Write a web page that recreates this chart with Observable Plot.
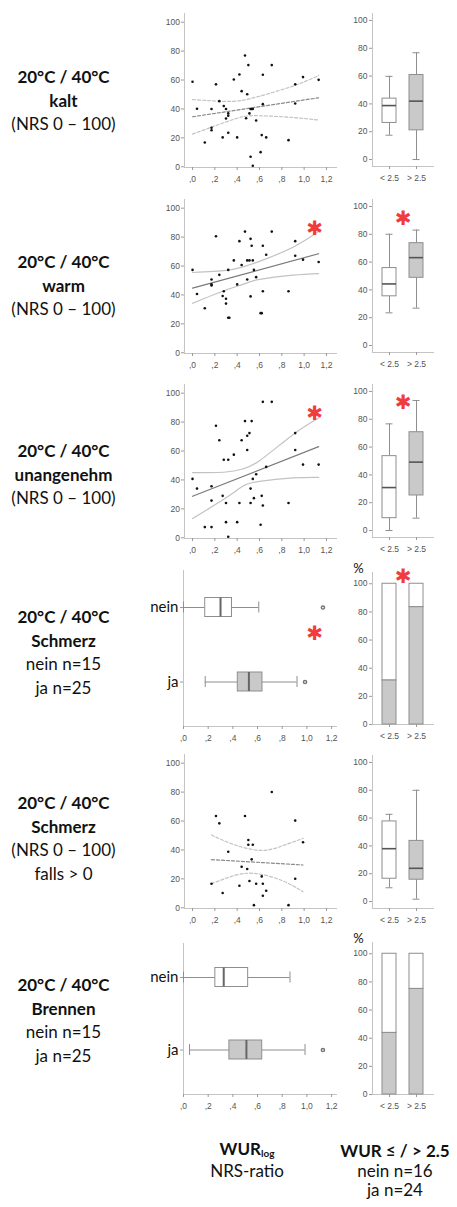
<!DOCTYPE html>
<html><head><meta charset="utf-8">
<script src="https://cdn.jsdelivr.net/npm/d3@7"></script>
<script src="https://cdn.jsdelivr.net/npm/@observablehq/plot@0.6"></script>
<style>
body{margin:0;background:#fff;}
#root{position:relative;width:457px;height:1207px;overflow:hidden;font-family:Lato,"Open Sans",sans-serif;color:#111;}
.lab{position:absolute;left:0;width:127px;text-align:center;font-size:17px;line-height:23.5px;}
.lab .b{font-weight:700}
.foot{position:absolute;text-align:center;font-size:17px;line-height:19.5px;}
.foot .b{font-weight:700}
.foot .l2{margin-top:2px}
sub{font-size:10px;vertical-align:-2px;line-height:0}
</style></head><body><div id="root"></div>
<script>
// ---------- data ----------
const xTicks = [0, 0.2, 0.4, 0.6, 0.8, 1.0, 1.2];
const yTicks = [0, 20, 40, 60, 80, 100];
const groups = ["< 2.5", "> 2.5"];
const answers = ["nein", "ja"];
const starGlyph = ["✱"];
const pctGlyph = ["%"];

// Scatter: [WUR_log, NRS]
const kalt = [[0,58.8],[0.04,40.1],[0.11,16.8],[0.17,40],[0.17,27],[0.17,25.3],[0.21,57],[0.24,45.4],[0.27,20.3],[0.28,42],[0.30,40],[0.30,33.4],[0.32,36.9],[0.32,35.3],[0.32,23.5],[0.37,60.4],[0.40,20.3],[0.42,63.8],[0.44,52.3],[0.47,77],[0.49,50.2],[0.48,33.6],[0.50,70.3],[0.51,36.9],[0.52,40],[0.53,40],[0.54,40],[0.52,6.9],[0.54,0.7],[0.57,32],[0.61,10.1],[0.62,21.9],[0.63,63.6],[0.63,43.3],[0.66,20.3],[0.71,70.3],[0.86,18.4],[0.92,57],[0.92,43.8],[0.99,62],[1.13,60.1]];
const kaltFit = [[0,34.6],[1.13,47.7]];
const kaltHi = [[0,46.5],[0.3,45.2],[0.45,46],[0.6,48.8],[0.9,55.8],[1.13,63.1]];
const kaltLo = [[0,22.6],[0.3,31],[0.45,34.6],[0.6,35.3],[0.9,34.1],[1.13,32.3]];

const warm = [[0,57.3],[0.04,40.6],[0.11,30.8],[0.17,50.7],[0.17,47.3],[0.17,46.5],[0.21,80.6],[0.24,53.9],[0.27,39.3],[0.28,42.5],[0.30,37.4],[0.30,34],[0.32,57.3],[0.32,24.2],[0.33,24.2],[0.37,63.9],[0.40,47.3],[0.42,77.2],[0.44,60.7],[0.47,83.8],[0.49,63.9],[0.49,50.7],[0.51,63.9],[0.52,78.8],[0.52,39],[0.53,74],[0.54,63.9],[0.55,57.3],[0.57,52.3],[0.61,27.4],[0.62,27.4],[0.63,74],[0.63,42.5],[0.66,67.8],[0.71,83.8],[0.86,42.5],[0.92,77.2],[0.92,67.1],[0.99,64.4],[1.13,62.8]];
const warmFit = [[0,44.7],[1.13,68.5]];
const warmHi = [[0,55.5],[0.3,57],[0.45,59.4],[0.6,63.2],[0.9,73],[1.13,83.8]];
const warmLo = [[0,34.2],[0.3,43.4],[0.45,47.3],[0.6,50.7],[0.9,53.7],[1.13,54.8]];

const unang = [[0,40.7],[0.04,34],[0.11,7.4],[0.17,7.4],[0.17,25.7],[0.17,35.6],[0.21,77.5],[0.24,67.4],[0.27,29],[0.28,54],[0.30,24.1],[0.30,10.8],[0.32,54],[0.32,0.7],[0.37,57.5],[0.40,10.8],[0.42,24.1],[0.44,67.4],[0.47,80.7],[0.49,60.7],[0.49,70.6],[0.51,72.4],[0.52,24.1],[0.52,34],[0.53,80.7],[0.54,40.7],[0.55,27.4],[0.57,43.9],[0.61,9],[0.62,29],[0.63,94],[0.63,22.3],[0.66,49],[0.71,94],[0.86,24.1],[0.92,72.4],[0.92,60.7],[0.99,50.6],[1.13,50.6]];
const unangFit = [[0,28.7],[1.13,63]];
const unangHi = [[0,45],[0.3,45.5],[0.45,47.6],[0.6,53.3],[0.9,71.3],[1.13,82.8]];
const unangLo = [[0,13.3],[0.3,27.6],[0.45,35.6],[0.6,39],[0.9,41.4],[1.13,41.8]];

const schmerzNrs = [[0.17,16.6],[0.21,63.5],[0.24,58.4],[0.27,10.2],[0.32,38.7],[0.42,15.2],[0.44,28.4],[0.47,63.5],[0.49,26.8],[0.50,43.6],[0.50,46.9],[0.51,18.5],[0.53,33.5],[0.54,43.6],[0.55,1.8],[0.57,16.6],[0.62,21.7],[0.63,16.6],[0.63,8.3],[0.66,11.8],[0.71,80.1],[0.86,1.8],[0.92,20.1],[0.92,60.3],[0.99,45.3]];
const schmerzFit = [[0.17,33.3],[0.99,29.6]];
const schmerzHi = [[0.17,50.3],[0.35,44.3],[0.6,39.7],[0.8,42.7],[0.99,48]];
const schmerzLo = [[0.17,16.6],[0.35,21.7],[0.55,23.8],[0.8,18.9],[0.99,11.1]];

// Box summaries: NRS by WUR group
const kaltBox = [{g:"< 2.5",lo:17.5,q1:26.3,med:38.8,q3:43.8,hi:59.8},{g:"> 2.5",lo:0,q1:21,med:42,q3:60.8,hi:76.8}];
const warmBox = [{g:"< 2.5",lo:23.5,q1:35.4,med:44.3,q3:55.7,hi:80},{g:"> 2.5",lo:26.9,q1:48.7,med:63.2,q3:73.6,hi:83}];
const unangBox = [{g:"< 2.5",lo:0,q1:8.9,med:30.9,q3:53.5,hi:76.7},{g:"> 2.5",lo:8.9,q1:25.2,med:49.2,q3:70.7,hi:93.5}];
const schmerzNrsBox = [{g:"< 2.5",lo:9.9,q1:16.4,med:38,q3:57.6,hi:62.7},{g:"> 2.5",lo:1.7,q1:15.7,med:23.9,q3:43.6,hi:80}];

// Percent "ja" by WUR group
const schmerzPct = [{g:"< 2.5",p:31.25},{g:"> 2.5",p:83.33}];
const brennenPct = [{g:"< 2.5",p:43.75},{g:"> 2.5",p:75}];

// Box summaries: WUR_log by answer
const schmerzWur = [{g:"nein",lo:0,q1:0.176,med:0.30,q3:0.393,hi:0.61},{g:"ja",lo:0.176,q1:0.44,med:0.53,q3:0.64,hi:0.92}];
const schmerzOut = [{g:"nein",v:1.13},{g:"ja",v:0.985}];
const brennenWur = [{g:"nein",lo:0,q1:0.258,med:0.326,q3:0.524,hi:0.863},{g:"ja",lo:0.049,q1:0.372,med:0.51,q3:0.638,hi:0.985}];
const brennenOut = [{g:"ja",v:1.13}];

// Labels
const rowLabels = [
  [["20°C / 40°C",1],["kalt",1],["(NRS 0 – 100)",0]],
  [["20°C / 40°C",1],["warm",1],["(NRS 0 – 100)",0]],
  [["20°C / 40°C",1],["unangenehm",1],["(NRS 0 – 100)",0]],
  [["20°C / 40°C",1],["Schmerz",1],["nein n=15",0],["ja n=25",0]],
  [["20°C / 40°C",1],["Schmerz",1],["(NRS 0 – 100)",0],["falls > 0",0]],
  [["20°C / 40°C",1],["Brennen",1],["nein n=15",0],["ja n=25",0]]
];

// ---------- drawing ----------
const root = document.getElementById("root");
const GREY = "#c9c9c9", EDGE = "#8e8e8e", AX = "#c4c4c4", TICK = "#9a9a9a", TXT = "#555", STAR = "#f03c3c";
const baseStyle = {fontFamily: "'Liberation Sans', Arial, sans-serif", fontSize: "8.5px", color: TXT, background: "transparent", overflow: "visible"};
const fmtX = d => { const s = d3.format(".1f")(d).replace(".", ","); return s.startsWith("0") ? s.slice(1) : s; };

function put(svg, left, top) {
  svg.style.position = "absolute"; svg.style.left = left + "px"; svg.style.top = top + "px";
  svg.style.maxWidth = "none";
  root.appendChild(svg);
}
function star(anchor, dx, dy) {
  return Plot.text(starGlyph, {text: d => d, frameAnchor: anchor, dx, dy, textAnchor: "middle", lineAnchor: "middle", fill: STAR, fontSize: 20, fontFamily: "DejaVu Sans", fontWeight: "bold"});
}
const frames = () => [Plot.frame({anchor: "left", stroke: AX}), Plot.frame({anchor: "bottom", stroke: AX})];

function scatter(pts, fit, lo, hi, dashed, T, extras = []) {
  const ml = 34, mr = 8, mt = 8, mb = 24, W = 152, H = 154;
  const dash = dashed ? "3,2" : null;
  const svg = Plot.plot({
    width: ml + W + mr, height: mt + H + mb,
    marginLeft: ml, marginRight: mr, marginTop: mt, marginBottom: mb,
    x: {domain: [-0.072, 1.29]}, y: {domain: [-0.5, 106]},
    style: baseStyle,
    marks: [
      ...frames(),
      Plot.axisY(yTicks, {tickSize: 3, tickPadding: 1.5, stroke: TICK, fill: TXT, label: null}),
      Plot.axisX(xTicks, {tickSize: 3, tickPadding: 5, stroke: TICK, fill: TXT, tickFormat: fmtX, label: null}),
      Plot.line(lo, {x: d => d[0], y: d => d[1], curve: "natural", stroke: "#c2c2c2", strokeWidth: 1.2, strokeDasharray: dash}),
      Plot.line(hi, {x: d => d[0], y: d => d[1], curve: "natural", stroke: "#c2c2c2", strokeWidth: 1.2, strokeDasharray: dash}),
      Plot.line(fit, {x: d => d[0], y: d => d[1], stroke: dashed ? "#8a8a8a" : "#7a7a7a", strokeWidth: 1.2, strokeDasharray: dash}),
      Plot.dot(pts, {x: d => d[0], y: d => d[1], r: 1.3, fill: "#111", stroke: null}),
      ...extras
    ]
  });
  put(svg, 184 - ml, T - mt);
}

function hbox(stats, outl, T, H, c0, c1, extras = []) {
  const ml = 42, mr = 8, mt = 8, mb = 24, W = 153, bw = 19;
  const step = c1 - c0;
  const svg = Plot.plot({
    width: ml + W + mr, height: mt + H + mb,
    marginLeft: ml, marginRight: mr, marginTop: mt, marginBottom: mb,
    x: {domain: [0, 1.24]},
    y: {type: "band", domain: answers, range: [mt + c0 - bw / 2, mt + c1 + bw / 2], paddingInner: 1 - bw / step, paddingOuter: 0, round: false},
    color: {domain: answers, range: ["white", GREY]},
    style: baseStyle,
    marks: [
      ...frames(),
      Plot.axisY({tickSize: 3, tickPadding: 2, stroke: TICK, fill: "#111", fontSize: 15, fontFamily: "Lato", label: null}),
      Plot.axisX(xTicks, {tickSize: 3, tickPadding: 5, stroke: TICK, fill: TXT, tickFormat: fmtX, label: null}),
      Plot.ruleY(stats, {y: "g", x1: "lo", x2: "q1", stroke: EDGE}),
      Plot.ruleY(stats, {y: "g", x1: "q3", x2: "hi", stroke: EDGE}),
      Plot.tickX(stats, {y: "g", x: "lo", insetTop: 4, insetBottom: 4, stroke: EDGE}),
      Plot.tickX(stats, {y: "g", x: "hi", insetTop: 4, insetBottom: 4, stroke: EDGE}),
      Plot.barX(stats, {y: "g", x1: "q1", x2: "q3", fill: "g", stroke: EDGE}),
      Plot.tickX(stats, {y: "g", x: "med", stroke: "#666", strokeWidth: 2}),
      Plot.dot(outl, {x: "v", y: "g", r: 1.6, stroke: "#777", fill: "white"}),
      ...extras
    ]
  });
  put(svg, 183 - ml, T - mt);
}

function vbox(stats, T, extras = []) {
  const ml = 22, mr = 6, mt = 14, mb = 24, W = 61, H = 153;
  const svg = Plot.plot({
    width: ml + W + mr, height: mt + H + mb,
    marginLeft: ml, marginRight: mr, marginTop: mt, marginBottom: mb,
    x: {type: "band", domain: groups, paddingInner: 0.5, paddingOuter: 0.34},
    y: {domain: [-5, 105]},
    color: {domain: groups, range: ["white", GREY]},
    style: baseStyle,
    marks: [
      ...frames(),
      Plot.axisY(yTicks, {tickSize: 3, tickPadding: 2, stroke: TICK, fill: TXT, label: null}),
      Plot.axisX({tickSize: 3, tickPadding: 5, stroke: TICK, fill: TXT, label: null}),
      Plot.ruleX(stats, {x: "g", y1: "lo", y2: "q1", stroke: EDGE}),
      Plot.ruleX(stats, {x: "g", y1: "q3", y2: "hi", stroke: EDGE}),
      Plot.tickY(stats, {x: "g", y: "lo", insetLeft: 3.5, insetRight: 3.5, stroke: EDGE}),
      Plot.tickY(stats, {x: "g", y: "hi", insetLeft: 3.5, insetRight: 3.5, stroke: EDGE}),
      Plot.barY(stats, {x: "g", y1: "q1", y2: "q3", fill: "g", stroke: EDGE}),
      Plot.tickY(stats, {x: "g", y: "med", stroke: "#555", strokeWidth: 1.6}),
      ...extras
    ]
  });
  put(svg, 372 - ml, T - mt);
}

function pbar(data, T, extras = []) {
  const ml = 22, mr = 6, mt = 14, mb = 24, W = 61, H = 152;
  const svg = Plot.plot({
    width: ml + W + mr, height: mt + H + mb,
    marginLeft: ml, marginRight: mr, marginTop: mt, marginBottom: mb,
    x: {type: "band", domain: groups, paddingInner: 0.5, paddingOuter: 0.34},
    y: {domain: [0, 108]},
    style: baseStyle,
    marks: [
      ...frames(),
      Plot.axisY(yTicks, {tickSize: 3, tickPadding: 2, stroke: TICK, fill: TXT, label: null}),
      Plot.axisX({tickSize: 3, tickPadding: 5, stroke: TICK, fill: TXT, label: null}),
      Plot.barY(data, {x: "g", y1: "p", y2: 100, fill: "white", stroke: EDGE}),
      Plot.barY(data, {x: "g", y1: 0, y2: "p", fill: GREY, stroke: EDGE}),
      Plot.text(pctGlyph, {text: d => d, frameAnchor: "top-left", dx: -14, dy: -4, textAnchor: "middle", lineAnchor: "middle", fontSize: 13, fill: "#111", fontFamily: "Lato"}),
      ...extras
    ]
  });
  put(svg, 372 - ml, T - mt);
}

// Row 1
scatter(kalt, kaltFit, kaltLo, kaltHi, true, 13);
vbox(kaltBox, 13);
// Row 2
scatter(warm, warmFit, warmLo, warmHi, false, 199, [star("top-right", -22, 29)]);
vbox(warmBox, 199, [star("top", 0, 19)]);
// Row 3
scatter(unang, unangFit, unangLo, unangHi, false, 384, [star("top-right", -22, 29)]);
vbox(unangBox, 384, [star("top", 0, 18)]);
// Row 4
hbox(schmerzWur, schmerzOut, 570, 156, 37, 111.5, [star("top-right", -22, 63)]);
pbar(schmerzPct, 572, [star("top", 0, 4)]);
// Row 5
scatter(schmerzNrs, schmerzFit, schmerzLo, schmerzHi, true, 754);
vbox(schmerzNrsBox, 755);
// Row 6
hbox(brennenWur, brennenOut, 943, 151, 34, 106.5);
pbar(brennenPct, 942);

// Row labels
const labelTops = [65, 250, 439, 605, 791, 973];
rowLabels.forEach((lines, i) => {
  const div = document.createElement("div");
  div.className = "lab"; div.style.top = labelTops[i] + "px";
  lines.forEach(([t, b]) => { const s = document.createElement("div"); if (b) s.className = "b"; s.textContent = t; div.appendChild(s); });
  root.appendChild(div);
});

// Footer labels
function foot(left, width, top, html) {
  const d = document.createElement("div"); d.className = "foot";
  d.style.left = left + "px"; d.style.width = width + "px"; d.style.top = top + "px";
  d.innerHTML = html; root.appendChild(d);
}
foot(187, 120, 1139, '<div class="b">WUR<sub>log</sub></div><div class="l2">NRS-ratio</div>');
foot(335, 120, 1141, '<div class="b">WUR ≤ / &gt; 2.5</div><div>nein n=16</div><div>ja n=24</div>');
</script></body></html>
